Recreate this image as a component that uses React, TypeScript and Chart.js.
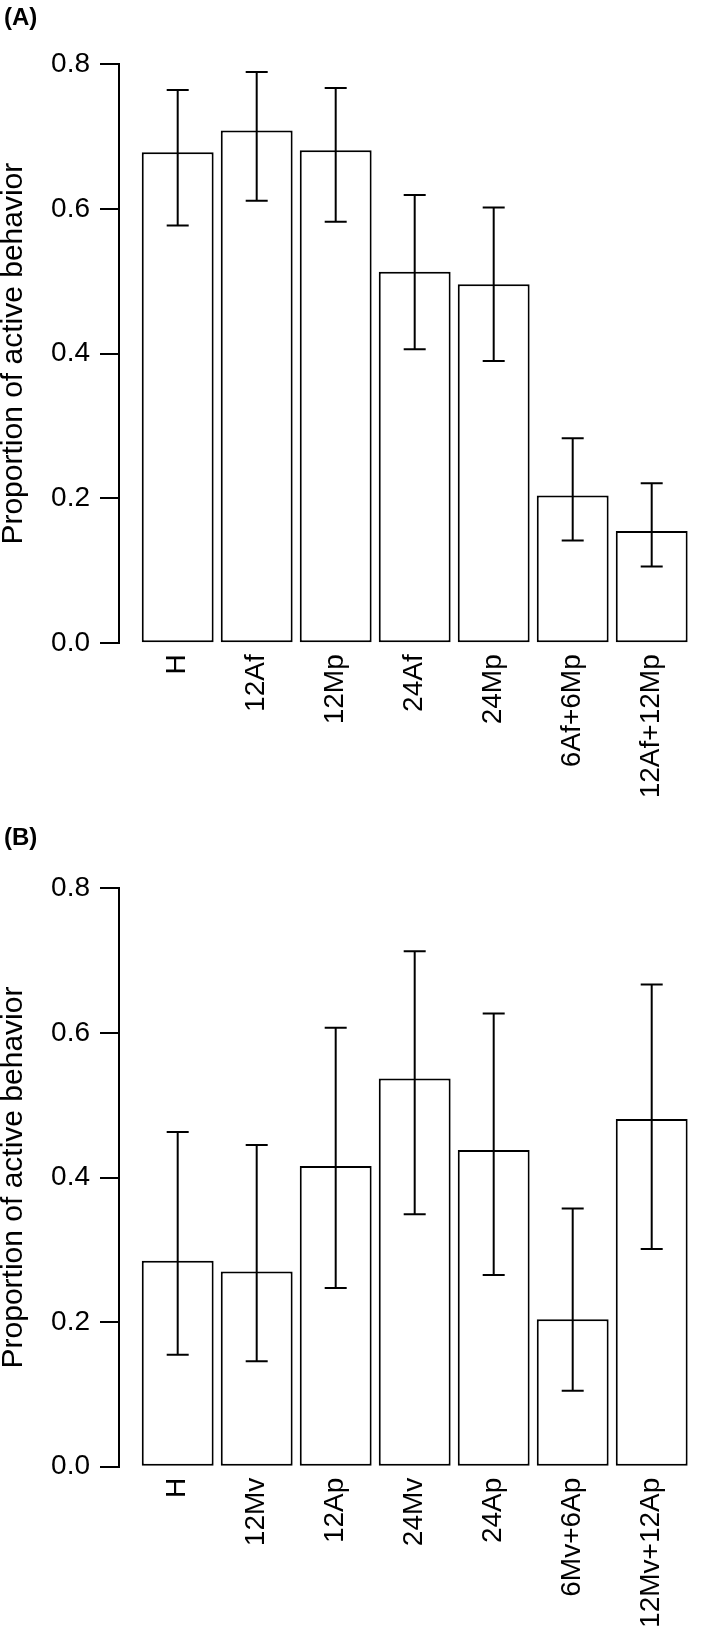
import React, { useEffect, useRef } from "react";
import { Chart, registerables } from "chart.js";

Chart.register(...registerables);

const FONT = "'Liberation Sans', Arial, Helvetica, sans-serif";

// Panel A
const labelsA = ["H", "12Af", "12Mp", "24Af", "24Mp", "6Af+6Mp", "12Af+12Mp"];
const meanA = [0.678, 0.708, 0.681, 0.513, 0.496, 0.204, 0.155];
const lowerA = [0.577, 0.611, 0.582, 0.406, 0.39, 0.142, 0.106];
const upperA = [0.764, 0.789, 0.767, 0.619, 0.602, 0.283, 0.221];

// Panel B
const labelsB = ["H", "12Mv", "12Ap", "24Mv", "24Ap", "6Mv+6Ap", "12Mv+12Ap"];
const meanB = [0.285, 0.27, 0.416, 0.537, 0.438, 0.204, 0.481];
const lowerB = [0.155, 0.146, 0.247, 0.349, 0.265, 0.105, 0.301];
const upperB = [0.463, 0.445, 0.607, 0.713, 0.627, 0.357, 0.667];

const yTicks = [0, 0.2, 0.4, 0.6, 0.8];
const yTitle = "Proportion of active behavior";

type PanelProps = {
  tag: string;
  labels: string[];
  mean: number[];
  lower: number[];
  upper: number[];
  height: number;
  padTop: number;
  xAxisH: number;
};

function Panel({ tag, labels, mean, lower, upper, height, padTop, xAxisH }: PanelProps) {
  const ref = useRef<HTMLCanvasElement | null>(null);

  useEffect(() => {
    if (!ref.current) return;
    const errorBars = {
      id: "errorBars",
      afterDatasetsDraw(chart: any) {
        const { ctx } = chart;
        const x = chart.scales.x;
        const y = chart.scales.y;
        ctx.save();
        ctx.strokeStyle = "#000";
        ctx.lineWidth = 2;
        lower.forEach((lo, i) => {
          const px = x.getPixelForValue(i);
          const y1 = y.getPixelForValue(lo);
          const y2 = y.getPixelForValue(upper[i]);
          ctx.beginPath();
          ctx.moveTo(px, y1);
          ctx.lineTo(px, y2);
          ctx.moveTo(px - 11, y1);
          ctx.lineTo(px + 11, y1);
          ctx.moveTo(px - 11, y2);
          ctx.lineTo(px + 11, y2);
          ctx.stroke();
        });
        ctx.restore();
      },
    };

    const chart = new Chart(ref.current, {
      type: "bar",
      data: {
        datasets: [
          {
            data: mean.map((v, i) => ({ x: i, y: v })),
            backgroundColor: "#fff",
            borderColor: "#000",
            borderWidth: 2,
            borderSkipped: false,
            barPercentage: 0.91,
            categoryPercentage: 1,
          },
        ],
      },
      options: {
        responsive: false,
        animation: false,
        layout: { padding: { top: padTop, right: 17.8, bottom: 0, left: 0 } },
        plugins: {
          legend: { display: false },
          tooltip: { enabled: false },
        },
        scales: {
          x: {
            type: "linear",
            offset: false,
            min: -0.743,
            max: 6.5,
            afterBuildTicks: (s: any) => {
              s.ticks = labels.map((_, i) => ({ value: i }));
            },
            afterFit: (s: any) => {
              s.height = xAxisH;
            },
            grid: { display: false, drawTicks: false, offset: false },
            border: { display: false },
            ticks: {
              autoSkip: false,
              maxRotation: 90,
              minRotation: 90,
              padding: 11,
              color: "#000",
              font: { size: 28, family: FONT },
              callback: (v: any) => labels[Math.round(Number(v))],
            },
          },
          y: {
            type: "linear",
            min: 0,
            max: 0.8,
            afterBuildTicks: (s: any) => {
              s.ticks = yTicks.map((v) => ({ value: v }));
            },
            afterFit: (s: any) => {
              s.width = 119;
            },
            grid: {
              display: true,
              drawOnChartArea: false,
              drawTicks: true,
              tickLength: 19,
              color: "#000",
              lineWidth: 2,
            },
            border: { display: true, color: "#000", width: 2 },
            ticks: {
              padding: 10,
              color: "#000",
              font: { size: 28, family: FONT },
              callback: (v: any) => Number(v).toFixed(1),
            },
            title: {
              display: true,
              text: yTitle,
              color: "#000",
              font: { size: 30, family: FONT, lineHeight: 1 },
              padding: { top: -1, bottom: 0 },
            },
          },
        },
      },
      plugins: [errorBars],
    } as any);

    return () => chart.destroy();
  }, [labels, mean, lower, upper, padTop, xAxisH]);

  return (
    <div style={{ position: "relative", width: 709, height }}>
      <canvas ref={ref} width={709} height={height} style={{ display: "block" }} />
      <div
        style={{
          position: "absolute",
          left: 4,
          top: 5,
          font: `bold 24px ${FONT}`,
          lineHeight: "24px",
          color: "#000",
        }}
      >
        {tag}
      </div>
    </div>
  );
}

export default function App() {
  useEffect(() => {
    document.body.style.margin = "0";
  }, []);
  return (
    <div style={{ width: 709, background: "#fff" }}>
      <Panel
        tag="(A)"
        labels={labelsA}
        mean={meanA}
        lower={lowerA}
        upper={upperA}
        height={820}
        padTop={64}
        xAxisH={176.7}
      />
      <Panel
        tag="(B)"
        labels={labelsB}
        mean={meanB}
        lower={lowerB}
        upper={upperB}
        height={815}
        padTop={68.3}
        xAxisH={168.3}
      />
    </div>
  );
}
